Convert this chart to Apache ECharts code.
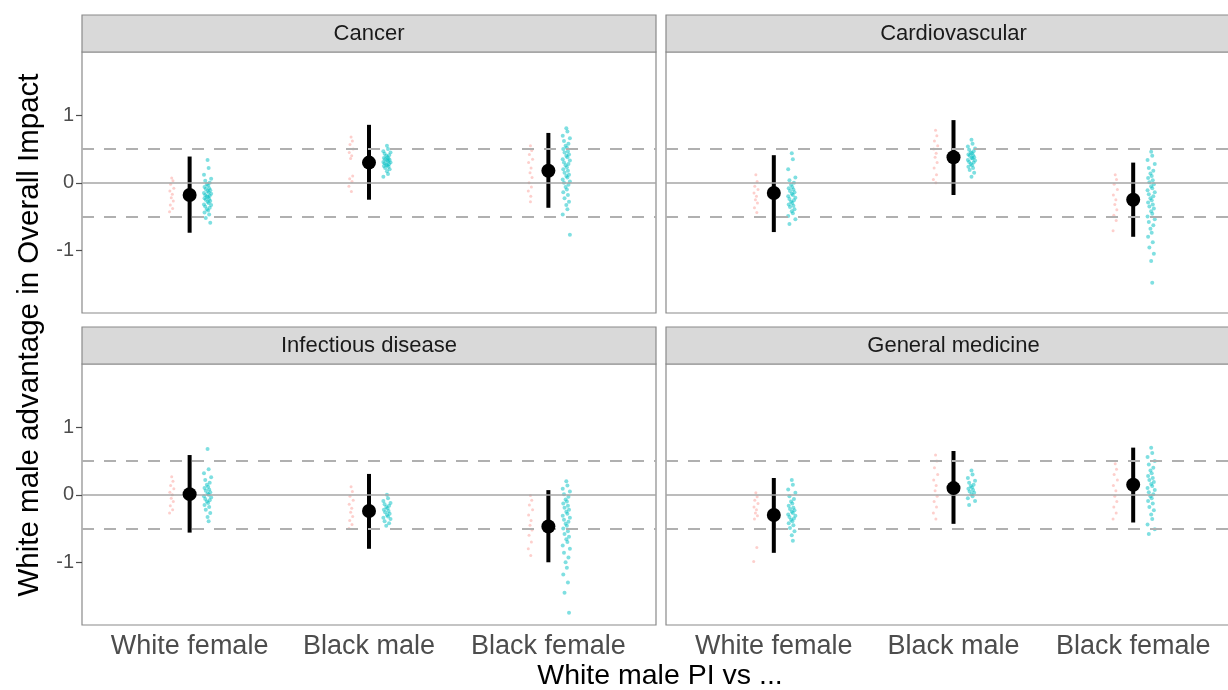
<!DOCTYPE html>
<html>
<head>
<meta charset="utf-8">
<script src="https://cdn.jsdelivr.net/npm/echarts@6/dist/echarts.min.js"></script>
<style>html,body{margin:0;padding:0;background:#fff}#c{width:1228px;height:690px}</style>
</head>
<body>
<div id="c"></div>
<script>
const CATEGORIES = ['White female', 'Black male', 'Black female'];
const PANELS = ['Cancer', 'Cardiovascular', 'Infectious disease', 'General medicine'];
const Y_TICKS = [-1, 0, 1];
const REF_SOLID = 0;
const REF_DASHED = [0.5, -0.5];

// Cancer
const cancerMean = [-0.18, 0.30, 0.18];
const cancerLo = [-0.74, -0.25, -0.37];
const cancerHi = [0.39, 0.86, 0.74];
const cancerPinkWF = [0.07, 0.03, -0.02, -0.08, -0.12, -0.17, -0.22, -0.27, -0.33, -0.38, -0.43];
const cancerCyanWF = [0.34, 0.22, 0.12, 0.06, 0.03, 0.0, -0.02, -0.04, -0.06, -0.08, -0.09, -0.11, -0.12, -0.14, -0.15, -0.16, -0.18, -0.19, -0.2, -0.21, -0.23, -0.24, -0.25, -0.27, -0.28, -0.3, -0.32, -0.33, -0.35, -0.37, -0.39, -0.41, -0.44, -0.47, -0.52, -0.59];
const cancerPinkBM = [0.68, 0.62, 0.57, 0.5, 0.45, 0.4, 0.36, 0.1, 0.06, 0.02, -0.05, -0.13];
const cancerCyanBM = [0.55, 0.5, 0.47, 0.45, 0.43, 0.41, 0.4, 0.38, 0.37, 0.36, 0.35, 0.34, 0.33, 0.32, 0.31, 0.3, 0.29, 0.28, 0.27, 0.26, 0.25, 0.24, 0.22, 0.2, 0.17, 0.13, 0.09];
const cancerPinkBF = [0.55, 0.48, 0.42, 0.35, 0.3, 0.22, 0.15, 0.08, 0.0, -0.06, -0.12, -0.2, -0.28];
const cancerCyanBF = [0.81, 0.76, 0.7, 0.66, 0.62, 0.58, 0.55, 0.52, 0.5, 0.47, 0.45, 0.42, 0.4, 0.38, 0.35, 0.33, 0.3, 0.28, 0.26, 0.23, 0.2, 0.18, 0.15, 0.12, 0.1, 0.08, 0.05, 0.02, 0.0, -0.03, -0.06, -0.1, -0.14, -0.18, -0.23, -0.28, -0.33, -0.39, -0.47, -0.77];

// Cardiovascular
const cardioMean = [-0.15, 0.38, -0.25];
const cardioLo = [-0.73, -0.18, -0.8];
const cardioHi = [0.41, 0.93, 0.3];
const cardioPinkWF = [0.12, 0.02, -0.05, -0.1, -0.15, -0.2, -0.25, -0.3, -0.37, -0.44];
const cardioCyanWF = [0.44, 0.35, 0.2, 0.08, 0.04, 0.0, -0.03, -0.06, -0.08, -0.1, -0.12, -0.14, -0.16, -0.18, -0.2, -0.22, -0.24, -0.26, -0.28, -0.3, -0.32, -0.34, -0.36, -0.39, -0.42, -0.45, -0.49, -0.54, -0.61];
const cardioPinkBM = [0.78, 0.7, 0.62, 0.55, 0.5, 0.44, 0.38, 0.3, 0.22, 0.12, 0.05, 0.0];
const cardioCyanBM = [0.64, 0.58, 0.54, 0.51, 0.49, 0.47, 0.45, 0.44, 0.42, 0.41, 0.4, 0.38, 0.37, 0.36, 0.34, 0.33, 0.31, 0.3, 0.28, 0.26, 0.24, 0.22, 0.19, 0.15, 0.09];
const cardioPinkBF = [0.12, 0.05, -0.02, -0.1, -0.18, -0.25, -0.32, -0.4, -0.48, -0.56, -0.71];
const cardioCyanBF = [0.46, 0.4, 0.34, 0.28, 0.22, 0.18, 0.14, 0.1, 0.07, 0.04, 0.01, -0.02, -0.05, -0.08, -0.11, -0.14, -0.17, -0.2, -0.23, -0.26, -0.29, -0.32, -0.35, -0.38, -0.42, -0.46, -0.5, -0.54, -0.58, -0.63, -0.68, -0.74, -0.8, -0.88, -0.96, -1.05, -1.16, -1.48];

// Infectious disease
const infectMean = [0.01, -0.24, -0.47];
const infectLo = [-0.56, -0.8, -1.0];
const infectHi = [0.59, 0.31, 0.07];
const infectPinkWF = [0.27, 0.2, 0.14, 0.09, 0.04, 0.0, -0.05, -0.1, -0.16, -0.22, -0.27];
const infectCyanWF = [0.68, 0.38, 0.32, 0.26, 0.22, 0.18, 0.15, 0.12, 0.1, 0.08, 0.06, 0.04, 0.02, 0.0, -0.02, -0.04, -0.06, -0.08, -0.1, -0.12, -0.15, -0.18, -0.22, -0.27, -0.33, -0.39];
const infectPinkBM = [0.12, 0.05, -0.02, -0.08, -0.14, -0.2, -0.26, -0.32, -0.38, -0.44, -0.5];
const infectCyanBM = [0.0, -0.05, -0.09, -0.12, -0.14, -0.16, -0.18, -0.2, -0.22, -0.24, -0.26, -0.28, -0.3, -0.32, -0.34, -0.36, -0.39, -0.42, -0.46];
const infectPinkBF = [-0.01, -0.08, -0.15, -0.22, -0.3, -0.38, -0.45, -0.52, -0.6, -0.7, -0.8, -0.9];
const infectCyanBF = [0.2, 0.14, 0.09, 0.05, 0.01, -0.03, -0.07, -0.1, -0.13, -0.16, -0.19, -0.22, -0.25, -0.28, -0.31, -0.34, -0.37, -0.4, -0.43, -0.46, -0.5, -0.54, -0.58, -0.62, -0.66, -0.7, -0.75, -0.8, -0.86, -0.93, -1.0, -1.08, -1.18, -1.3, -1.45, -1.75];

// General medicine
const genmedMean = [-0.3, 0.1, 0.15];
const genmedLo = [-0.86, -0.43, -0.41];
const genmedHi = [0.25, 0.65, 0.7];
const genmedPinkWF = [0.03, -0.03, -0.08, -0.13, -0.18, -0.22, -0.27, -0.31, -0.36, -0.78, -0.99];
const genmedCyanWF = [0.22, 0.15, 0.08, 0.03, -0.02, -0.06, -0.1, -0.13, -0.16, -0.19, -0.21, -0.23, -0.25, -0.27, -0.29, -0.31, -0.33, -0.35, -0.37, -0.39, -0.42, -0.45, -0.49, -0.54, -0.6, -0.68];
const genmedPinkBM = [0.59, 0.5, 0.4, 0.3, 0.22, 0.14, 0.06, -0.02, -0.1, -0.18, -0.27, -0.36];
const genmedCyanBM = [0.36, 0.3, 0.25, 0.21, 0.18, 0.15, 0.13, 0.11, 0.09, 0.07, 0.05, 0.03, 0.01, -0.02, -0.05, -0.09, -0.15];
const genmedPinkBF = [0.46, 0.38, 0.3, 0.22, 0.14, 0.06, -0.02, -0.1, -0.18, -0.27, -0.36];
const genmedCyanBF = [0.7, 0.62, 0.56, 0.5, 0.45, 0.4, 0.36, 0.32, 0.28, 0.25, 0.22, 0.19, 0.16, 0.13, 0.1, 0.07, 0.04, 0.01, -0.02, -0.05, -0.09, -0.13, -0.18, -0.23, -0.29, -0.36, -0.44, -0.51, -0.58];

const panelData = [
  {mean: cancerMean, lo: cancerLo, hi: cancerHi, pink: [cancerPinkWF, cancerPinkBM, cancerPinkBF], cyan: [cancerCyanWF, cancerCyanBM, cancerCyanBF]},
  {mean: cardioMean, lo: cardioLo, hi: cardioHi, pink: [cardioPinkWF, cardioPinkBM, cardioPinkBF], cyan: [cardioCyanWF, cardioCyanBM, cardioCyanBF]},
  {mean: infectMean, lo: infectLo, hi: infectHi, pink: [infectPinkWF, infectPinkBM, infectPinkBF], cyan: [infectCyanWF, infectCyanBM, infectCyanBF]},
  {mean: genmedMean, lo: genmedLo, hi: genmedHi, pink: [genmedPinkWF, genmedPinkBM, genmedPinkBF], cyan: [genmedCyanWF, genmedCyanBM, genmedCyanBF]}
];

// layout / style (not data)
const JITTER = [0, 0.012, -0.01, 0.02, -0.017, 0.006, -0.004, 0.015, -0.013, 0.009, -0.02, 0.003];
const PINK_OFF = -0.1, CYAN_OFF = 0.1;
const GRIDS = [
  {left: 82, top: 52, width: 574, height: 261},
  {left: 666, top: 52, width: 575, height: 261},
  {left: 82, top: 364, width: 574, height: 261},
  {left: 666, top: 364, width: 575, height: 261}
];
const STRIP_H = 37;
const BORDER = '#8a8a8a';

const chart = echarts.init(document.getElementById('c'));
const grid = [], xAxis = [], yAxis = [], series = [], graphic = [];

GRIDS.forEach((g, i) => {
  const isBottom = i >= 2, isLeft = i % 2 === 0;
  grid.push(Object.assign({show: true, borderColor: BORDER, borderWidth: 1.2, backgroundColor: '#fff',
    containLabel: false, outerBoundsMode: 'none'}, g));
  xAxis.push({
    type: 'value', gridIndex: i, min: 0.4, max: 3.6,
    splitLine: {show: false}, axisLine: {show: false},
    axisTick: {show: isBottom, customValues: [1, 2, 3], length: 6, lineStyle: {color: '#4d4d4d', width: 1.2}},
    axisLabel: {show: isBottom, customValues: [1, 2, 3], formatter: v => CATEGORIES[Math.round(v) - 1],
      fontSize: 27, color: '#4d4d4d', margin: 8, fontFamily: 'Liberation Sans'}
  });
  yAxis.push({
    type: 'value', gridIndex: i, min: -1.93, max: 1.94,
    splitLine: {show: false}, axisLine: {show: false},
    axisTick: {show: isLeft, customValues: Y_TICKS, length: 6, lineStyle: {color: '#4d4d4d', width: 1.2}},
    axisLabel: {show: isLeft, customValues: Y_TICKS, fontSize: 20, color: '#4d4d4d', margin: 8, fontFamily: 'Liberation Sans'}
  });
  // strip
  graphic.push({type: 'rect', shape: {x: g.left, y: g.top - STRIP_H, width: g.width, height: STRIP_H},
    style: {fill: '#d9d9d9', stroke: BORDER, lineWidth: 1.2}, z: 10});
  graphic.push({type: 'text', x: g.left + g.width / 2, y: g.top - STRIP_H / 2,
    style: {text: PANELS[i], fontSize: 22, fill: '#1a1a1a', align: 'center', verticalAlign: 'middle', fontFamily: 'Liberation Sans'}, z: 11});

  const d = panelData[i];
  // reference lines
  series.push({
    type: 'scatter', xAxisIndex: i, yAxisIndex: i, data: [], silent: true, z: 1,
    markLine: {silent: true, symbol: 'none', label: {show: false}, animation: false,
      data: [
        {yAxis: REF_SOLID, lineStyle: {type: 'solid', color: '#a6a6a6', width: 1.6}},
        {yAxis: REF_DASHED[0], lineStyle: {type: [12, 10], color: '#b0b0b0', width: 2}},
        {yAxis: REF_DASHED[1], lineStyle: {type: [12, 10], color: '#b0b0b0', width: 2}}
      ]}
  });
  const pinkPts = [], cyanPts = [];
  d.pink.forEach((arr, c) => arr.forEach((v, k) => pinkPts.push([c + 1 + PINK_OFF + JITTER[k % JITTER.length] * 0.6, v])));
  d.cyan.forEach((arr, c) => arr.forEach((v, k) => cyanPts.push([c + 1 + CYAN_OFF + JITTER[(k * 5) % JITTER.length], v])));
  series.push({type: 'scatter', xAxisIndex: i, yAxisIndex: i, data: pinkPts, symbolSize: 3, z: 2,
    itemStyle: {color: '#F8766D', opacity: 0.35}, silent: true, animation: false});
  series.push({type: 'scatter', xAxisIndex: i, yAxisIndex: i, data: cyanPts, symbolSize: 4, z: 3,
    itemStyle: {color: '#00BFC4', opacity: 0.5}, silent: true, animation: false});
  const bars = d.mean.map((m, c) => [c + 1, d.lo[c], d.hi[c]]);
  series.push({type: 'custom', xAxisIndex: i, yAxisIndex: i, data: bars, z: 4, silent: true, animation: false,
    renderItem: (params, api) => {
      const p1 = api.coord([api.value(0), api.value(1)]);
      const p2 = api.coord([api.value(0), api.value(2)]);
      return {type: 'line', shape: {x1: p1[0], y1: p1[1], x2: p2[0], y2: p2[1]}, style: {stroke: '#000', lineWidth: 4}};
    }, encode: {x: 0, y: [1, 2]}});
  series.push({type: 'scatter', xAxisIndex: i, yAxisIndex: i, data: d.mean.map((m, c) => [c + 1, m]), symbolSize: 14, z: 5,
    itemStyle: {color: '#000', opacity: 1}, silent: true, animation: false});
});

graphic.push({type: 'text', x: 660, y: 676, style: {text: 'White male PI vs ...', fontSize: 28.5, fill: '#000', align: 'center', verticalAlign: 'middle', fontFamily: 'Liberation Sans'}});
graphic.push({type: 'text', x: 30, y: 335, rotation: Math.PI / 2, style: {text: 'White male advantage in Overall Impact', fontSize: 29.5, fill: '#000', align: 'center', verticalAlign: 'middle', fontFamily: 'Liberation Sans'}});

chart.setOption({animation: false, backgroundColor: '#fff', grid, xAxis, yAxis, series, graphic});
</script>
</body>
</html>
